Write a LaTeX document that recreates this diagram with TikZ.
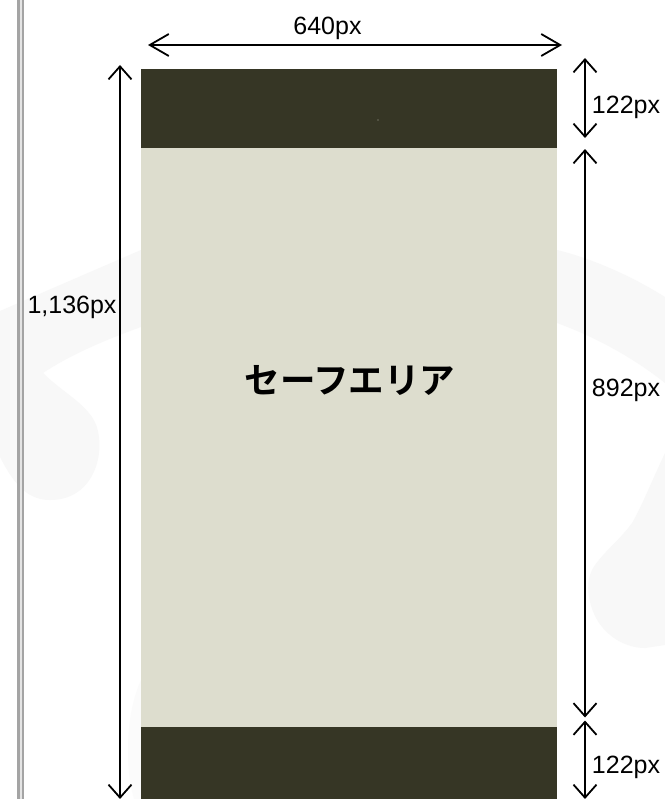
\documentclass[tikz,border=0pt]{standalone}
\usepackage{fontspec}
\setmainfont{Liberation Sans}
\newfontfamily\cjk{Noto Sans CJK JP Bold}
\usetikzlibrary{arrows.meta}
\definecolor{darkband}{HTML}{363625}
\definecolor{safearea}{HTML}{DDDDCE}
\definecolor{railgray}{HTML}{A4A4A4}
\definecolor{railpale}{HTML}{E4E4E4}
\definecolor{markfaint}{HTML}{F8F8F8}
\definecolor{markfainter}{HTML}{FBFBFB}
\definecolor{speck}{HTML}{5C5C4C}
\tikzset{
  band/.style={fill=#1,draw=none,inner sep=0pt,outer sep=0pt,anchor=north west},
  label/.style={font=\fontsize{25bp}{27bp}\selectfont,text=black,inner sep=0pt},
  dimv/.style={line width=1.8bp,draw=black,{Straight Barb[length=13bp,width=23bp,line width=1.8bp]}-{Straight Barb[length=13bp,width=23bp,line width=1.8bp]}},
  dimh/.style={line width=1.8bp,draw=black,{Straight Barb[length=19bp,width=22bp,line width=1.8bp]}-{Straight Barb[length=19bp,width=22bp,line width=1.8bp]}},
}
\begin{document}
\begin{tikzpicture}[x=1bp,y=-1bp]
\useasboundingbox (0,0) rectangle (665,799);
\fill[white] (0,0) rectangle (665,799);
% faint watermark
\begin{scope}
\clip (0,0) rectangle (665,799);
\fill[markfaint] (0,311) -- (141,250) -- (141,327) .. controls (105,340) and (70,355) .. (43,373) .. controls (60,390) and (80,400) .. (92,417) .. controls (108,440) and (100,500) .. (50,500) .. controls (25,500) and (12,480) .. (0,457) -- cycle;
\fill[markfaint] (557,250) .. controls (590,258) and (630,275) .. (665,297) -- (665,383) .. controls (630,355) and (590,335) .. (557,323) -- cycle;
\fill[markfaint] (665,453) .. controls (650,485) and (640,510) .. (632,523) .. controls (620,540) and (600,555) .. (592,570) .. controls (586,582) and (587,600) .. (596,618) .. controls (606,636) and (625,648) .. (645,648) -- (665,645) -- cycle;
\fill[markfainter] (141,680) .. controls (132,700) and (128,725) .. (128,750) .. controls (128,770) and (130,785) .. (134,799) -- (141,799) -- cycle;
\end{scope}
% left rail
\fill[railgray] (17.3,0) rectangle (24,799);
\fill[railpale] (20,0) rectangle (21.6,799);
% bands
\node[band=darkband,minimum width=416bp,minimum height=79bp] (top) at (141,69) {};
\node[band=safearea,minimum width=416bp,minimum height=579bp] (safe) at (141,148) {};
\node[band=darkband,minimum width=416bp,minimum height=72bp] (bottom) at (141,727) {};
\fill[speck] (378,120) circle (1.2);
\node[font=\cjk\fontsize{35.5bp}{38bp}\selectfont,text=black,inner sep=0pt] (safelabel) at (350,380) {セーフエリア};
% end points
\coordinate (wl) at (148,45);
\coordinate (wr) at (562,45);
\coordinate (hu) at (120,65);
\coordinate (hd) at (120,799);
\coordinate (au) at (585,58);
\coordinate (ad) at (585,138);
\coordinate (bu) at (585,149);
\coordinate (bd) at (585,717.5);
\coordinate (cu) at (585,720.5);
\coordinate (cd) at (585,799);
% dimensions
\draw[dimh] (wl) -- (wr);
\draw[dimv] (hu) -- (hd);
\draw[dimv] (au) -- (ad);
\draw[dimv] (bu) -- (bd);
\draw[dimv] (cu) -- (cd);
% labels
\node[label] (lw) at (327.5,28.5) {640px};
\node[label] (lh) at (72,307.5) {1,136px};
\node[label] (la) at (626,107.5) {122px};
\node[label] (lb) at (626,390.5) {892px};
\node[label] (lc) at (626,767.5) {122px};
\end{tikzpicture}
\end{document}
